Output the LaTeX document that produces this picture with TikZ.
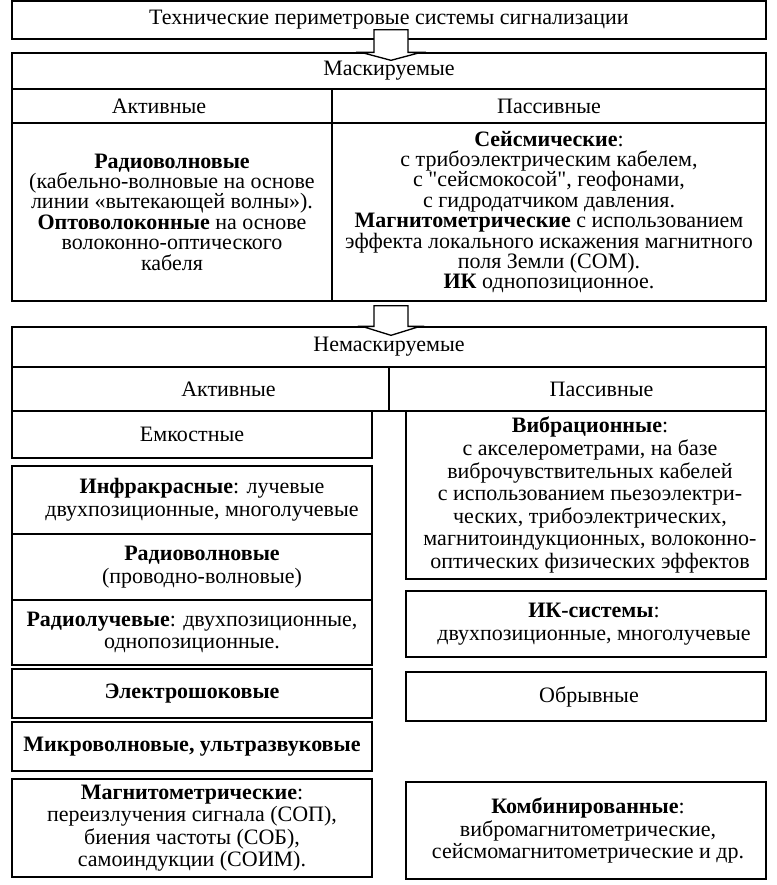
\documentclass[tikz,border=0pt]{standalone}
\usepackage{fontspec}
\setmainfont{Liberation Serif}[Ligatures=TeXOff]
\usetikzlibrary{calc}
% #1 options of the text (shift, font), #2 name, #3..#6 corners (px), #7 text
\newcommand\pxbox[7][]{%
  \node[box,minimum width={(#5-#3)*0.75pt},minimum height={(#6-#4)*0.75pt}] (#2) at ({(#3+#5)/2},{(#4+#6)/2}) {};
  \node[boxtext,#1] (#2-t) at (#2.center) {#7};}
\begin{document}
\begin{tikzpicture}[x=0.75pt,y=-0.75pt,
  box/.style={draw=black, line width=1pt, inner sep=0pt},
  boxtext/.style={inner sep=0pt, align=center, font=\fontsize{16.5}{16.9}\selectfont},
  tight/.style={font=\fontsize{16.5}{15.3}\selectfont},
  sh/.style={xshift=#1*0.75pt},
  blockarrow/.style={draw=black, line width=1pt, fill=white, line join=miter}]
\useasboundingbox (0,0) rectangle (776,885);
% top part
\pxbox{title}{12}{1}{766}{39}{Технические периметровые системы сигнализации}
\pxbox{mask}{12}{53}{766}{89}{Маскируемые}
\pxbox[sh=-13]{maskA}{12}{89}{332}{123}{Активные}
\pxbox{maskP}{332}{89}{766}{123}{Пассивные}
\pxbox[tight]{maskL}{12}{123}{332}{301}{\textbf{Радиоволновые}\\(кабельно-волновые на основе\\линии «вытекающей волны»).\\\textbf{Оптоволоконные} на основе\\волоконно-оптического\\кабеля}
\pxbox[tight]{maskR}{332}{123}{766}{301}{\textbf{Сейсмические}:\\с трибоэлектрическим кабелем,\\с "сейсмокосой", геофонами,\\с гидродатчиком давления.\\\textbf{Магнитометрические} с использованием\\эффекта локального искажения магнитного\\поля Земли (СОМ).\\\textbf{ИК} однопозиционное.}
% bottom part
\pxbox{nem}{12}{327}{766}{367}{Немаскируемые}
\pxbox[sh=28]{nemA}{12}{367}{389}{411}{Активные}
\pxbox[sh=24]{nemP}{389}{367}{766}{411}{Пассивные}
% left column
\pxbox{emk}{12}{411}{372}{458}{Емкостные}
\pxbox[sh=10]{infra}{12}{466}{372}{534}{\textbf{Инфракрасные}: лучевые\\двухпозиционные, многолучевые}
\pxbox[sh=10]{radiov}{12}{534}{372}{600}{\textbf{Радиоволновые}\\(проводно-волновые)}
\pxbox{radiol}{12}{600}{372}{665}{\textbf{Радиолучевые}: двухпозиционные,\\однопозиционные.}
\pxbox{shock}{12}{669}{372}{718}{\textbf{Электрошоковые}}
\pxbox{micro}{12}{722}{372}{771}{\textbf{Микроволновые, ультразвуковые}}
\pxbox{magn}{12}{779}{372}{877}{\textbf{Магнитометрические}:\\переизлучения сигнала (СОП),\\биения частоты (СОБ),\\самоиндукции (СОИМ).}
% right column
\pxbox[sh=4]{vibr}{406}{411}{766}{579}{\textbf{Вибрационные}:\\с акселерометрами, на базе\\виброчувствительных кабелей\\с использованием пьезоэлектри-\\ческих, трибоэлектрических,\\магнитоиндукционных, волоконно-\\оптических физических эффектов}
\pxbox[sh=8]{ik}{406}{591}{766}{657}{\textbf{ИК-системы}:\\двухпозиционные, многолучевые}
\pxbox[sh=3]{obr}{406}{672}{766}{721}{Обрывные}
\pxbox[sh=2]{komb}{406}{782}{766}{879}{\textbf{Комбинированные}:\\вибромагнитометрические,\\сейсмомагнитометрические и др.}
% block arrows
\coordinate (a1) at ($(title.south)+(2,-10)$);
\coordinate (b1) at ($(mask.north)+(2,0)$);
\draw[blockarrow] ($(a1)+(-17,0)$) -- ($(b1)+(-17,0)$) -- ($(b1)+(-30,0)$) -- ($(b1)+(0,8)$)
  -- ($(b1)+(30,0)$) -- ($(b1)+(17,0)$) -- ($(a1)+(17,0)$) -- cycle;
\coordinate (b2) at ($(nem.north)+(2,0)$);
\coordinate (a2) at ($(maskL.south -| b2)+(0,4)$);
\draw[blockarrow] ($(a2)+(-17,0)$) -- ($(b2)+(-17,0)$) -- ($(b2)+(-29,0)$) -- ($(b2)+(0,9)$)
  -- ($(b2)+(29,0)$) -- ($(b2)+(17,0)$) -- ($(a2)+(17,0)$) -- cycle;
\end{tikzpicture}
\end{document}
